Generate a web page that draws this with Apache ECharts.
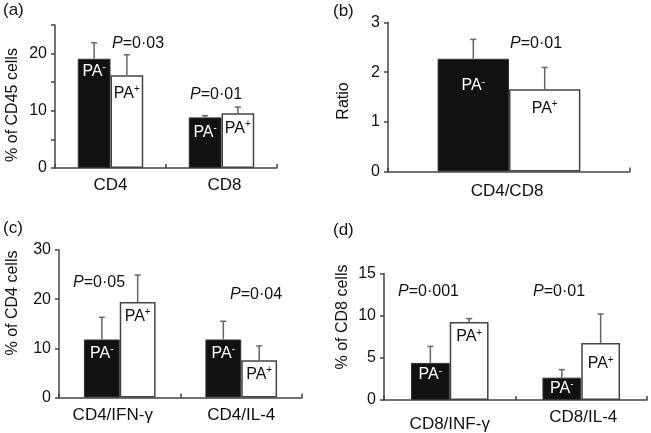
<!DOCTYPE html>
<html>
<head>
<meta charset="utf-8">
<script src="https://cdn.jsdelivr.net/npm/echarts@6/dist/echarts.min.js"></script>
<style>
html,body{margin:0;padding:0;background:#fff;}
#c{width:651px;height:433px;}
</style>
</head>
<body>
<div id="c"></div>
<script>
// ---------- DATA ----------
// Panel (a): % of CD45 cells
const catsA = ['CD4', 'CD8'];
const negA = [19.1, 8.85];
const posA = [16.2, 9.55];
const negSdA = [2.8, 0.3];
const posSdA = [3.6, 1.1];
const ticksA = [0, 10, 20];

// Panel (b): Ratio
const catsB = ['CD4/CD8'];
const negB = [2.27];
const posB = [1.655];
const negSdB = [0.39];
const posSdB = [0.44];
const ticksB = [0, 1, 2, 3];

// Panel (c): % of CD4 cells
const catsC = ['CD4/IFN-γ', 'CD4/IL-4'];
const negC = [11.8, 11.8];
const posC = [19.4, 7.6];
const negSdC = [4.5, 3.7];
const posSdC = [5.5, 2.9];
const ticksC = [0, 10, 20, 30];

// Panel (d): % of CD8 cells
const catsD = ['CD8/INF-γ', 'CD8/IL-4'];
const negD = [4.4, 2.65];
const posD = [9.25, 6.75];
const negSdD = [1.95, 0.95];
const posSdD = [0.4, 3.45];
const ticksD = [0, 5, 10, 15];

const pA = ['P=0·03', 'P=0·01'];
const pB = ['P=0·01'];
const pC = ['P=0·05', 'P=0·04'];
const pD = ['P=0·001', 'P=0·01'];

// ---------- LAYOUT ----------
const FONT = 'Liberation Sans, Arial, Helvetica, sans-serif';
const AX = '#444';
const GAP = 0.41;

const panels = [
  {cats: catsA, neg: negA, pos: posA, nsd: negSdA, psd: posSdA, ticks: ticksA, max: 25, interval: 5,
   grid: {left: 55, top: 25, width: 222, height: 143}, name: '% of CD45 cells', nameXY: [12.5, 105],
   tag: '(a)', tagXY: [3, 2], pTexts: pA, pXY: [[112, 44], [190, 95]],
   negDist: [4, 6], posDist: [9, 6], catPad: [[0, 0, 0, 0], [0, 0, 0, 6]]},
  {cats: catsB, neg: negB, pos: posB, nsd: negSdB, psd: posSdB, ticks: ticksB, max: 3, interval: 1,
   grid: {left: 388, top: 22.5, width: 242, height: 149}, name: 'Ratio', nameXY: [343.5, 101],
   tag: '(b)', tagXY: [333, 3], pTexts: pB, pXY: [[510, 44]],
   negDist: [18], posDist: [10], catPad: [[2, 4, 0, 0]]},
  {cats: catsC, neg: negC, pos: posC, nsd: negSdC, psd: posSdC, ticks: ticksC, max: 30, interval: 10,
   grid: {left: 59, top: 250, width: 243, height: 147.5}, name: '% of CD4 cells', nameXY: [12.5, 303],
   tag: '(c)', tagXY: [3, 220], pTexts: pC, pXY: [[73, 283], [230, 295]],
   negDist: [5, 5], posDist: [5, 5], catPad: [[0, 14, 0, 0], [0, 0, 0, 0]]},
  {cats: catsD, neg: negD, pos: posD, nsd: negSdD, psd: posSdD, ticks: ticksD, max: 15, interval: 5,
   grid: {left: 384, top: 273.5, width: 263, height: 126.5}, name: '% of CD8 cells', nameXY: [342.5, 317],
   tag: '(d)', tagXY: [333, 222], pTexts: pD, pXY: [[398, 292], [533, 292]],
   negDist: [3, 2], posDist: [6, 12], catPad: [[7, 0, 0, 0], [0, 0, 0, 4]]}
];

const labelRich = (color) => ({
  m: {fontSize: 16, fontFamily: FONT, color: color},
  s: {fontSize: 10, fontFamily: FONT, color: color, padding: [0, 0, 8, 0]}
});

const grids = [], xAxes = [], yAxes = [], series = [], graphics = [];

panels.forEach((p, i) => {
  grids.push(Object.assign({outerBoundsMode: 'none', containLabel: false}, p.grid));
  const catRich = {};
  p.cats.forEach((c, k) => {
    catRich['c' + k] = {fontSize: 17, fontFamily: FONT, color: '#111', padding: p.catPad[k]};
  });
  xAxes.push({
    type: 'category', gridIndex: i, data: p.cats, boundaryGap: true,
    axisLine: {show: true, lineStyle: {color: AX, width: 1.5}},
    axisTick: {show: true, inside: true, length: 4, alignWithLabel: false, interval: 0, lineStyle: {color: AX, width: 1.5}},
    axisLabel: {show: true, interval: 0, margin: 9, fontSize: 17, fontFamily: FONT, color: '#111',
      formatter: (v, k) => '{c' + k + '|' + v + '}', rich: catRich},
    splitLine: {show: false}
  });
  yAxes.push({
    type: 'value', gridIndex: i, min: 0, max: p.max, interval: p.interval,
    axisLine: {show: true, lineStyle: {color: AX, width: 1.5}},
    axisTick: {show: true, inside: false, length: 4, lineStyle: {color: AX, width: 1.5}},
    axisLabel: {show: true, margin: 8, fontSize: 16, fontFamily: FONT, color: '#111',
      formatter: (v) => p.ticks.indexOf(v) >= 0 ? String(v) : ''},
    splitLine: {show: false}
  });
  series.push({
    type: 'bar', xAxisIndex: i, yAxisIndex: i, barGap: '0%', barCategoryGap: (GAP * 100) + '%',
    data: p.neg.map((v, k) => ({value: v, label: {distance: p.negDist[k]}})),
    itemStyle: {color: '#111', borderColor: '#333', borderWidth: 1},
    label: {show: true, position: 'insideTop', formatter: '{m|PA}{s|-}', rich: labelRich('#fff')},
    z: 2
  });
  series.push({
    type: 'bar', xAxisIndex: i, yAxisIndex: i, barGap: '0%', barCategoryGap: (GAP * 100) + '%',
    data: p.pos.map((v, k) => ({value: v, label: {distance: p.posDist[k]}})),
    itemStyle: {color: '#fff', borderColor: '#444', borderWidth: 1.5},
    label: {show: true, position: 'insideTop', formatter: '{m|PA}{s|+}', rich: labelRich('#111')},
    z: 2
  });
  const errData = [];
  p.neg.forEach((v, k) => errData.push([k, 0, v, p.nsd[k]]));
  p.pos.forEach((v, k) => errData.push([k, 1, v, p.psd[k]]));
  series.push({
    type: 'custom', xAxisIndex: i, yAxisIndex: i, data: errData, z: 3, silent: true,
    renderItem: (params, api) => {
      const cat = api.value(0), grp = api.value(1), mean = api.value(2), sd = api.value(3);
      const band = api.size([1, 0])[0];
      const bw = band * (1 - GAP) / 2;
      const cx = api.coord([cat, 0])[0] + (grp === 0 ? -bw / 2 : bw / 2);
      const yBar = api.coord([cat, mean])[1];
      const yTop = api.coord([cat, mean + sd])[1];
      const st = {stroke: '#666', lineWidth: 1.5};
      return {type: 'group', children: [
        {type: 'line', shape: {x1: cx, y1: yBar, x2: cx, y2: yTop}, style: st},
        {type: 'line', shape: {x1: cx - 3, y1: yTop, x2: cx + 3, y2: yTop}, style: st}
      ]};
    }
  });
  graphics.push({type: 'text', x: p.nameXY[0], y: p.nameXY[1], rotation: Math.PI / 2,
    style: {text: p.name, font: '16px ' + FONT, fill: '#111', align: 'center', verticalAlign: 'middle'}});
  graphics.push({type: 'text', x: p.tagXY[0], y: p.tagXY[1],
    style: {text: p.tag, font: '17px ' + FONT, fill: '#111', align: 'left', verticalAlign: 'top'}});
  p.pTexts.forEach((t, k) => {
    graphics.push({type: 'text', x: p.pXY[k][0], y: p.pXY[k][1],
      style: {text: '{i|P}{n|' + t.slice(1) + '}', align: 'left', verticalAlign: 'middle',
        rich: {i: {fontStyle: 'italic', fontSize: 16, fontFamily: FONT, fill: '#111', color: '#111'},
               n: {fontSize: 16, fontFamily: FONT, fill: '#111', color: '#111'}}}});
  });
});

const chart = echarts.init(document.getElementById('c'), null, {renderer: 'canvas'});
chart.setOption({
  animation: false,
  backgroundColor: '#fff',
  textStyle: {fontFamily: FONT},
  grid: grids, xAxis: xAxes, yAxis: yAxes, series: series, graphic: graphics
});
</script>
</body>
</html>
